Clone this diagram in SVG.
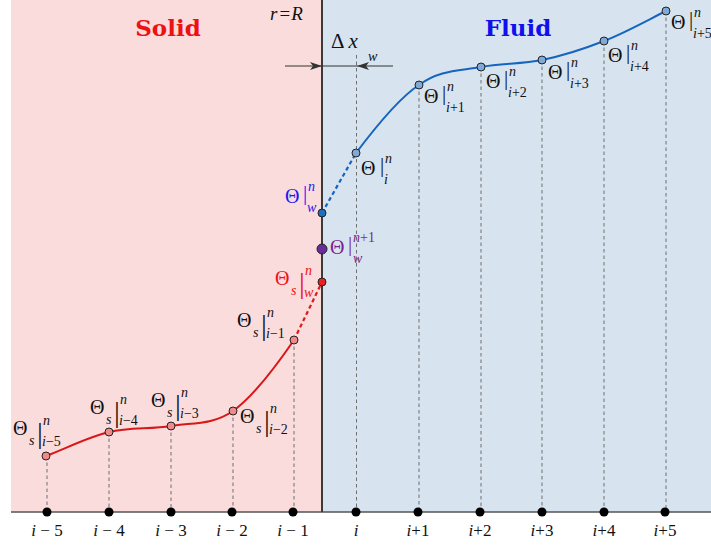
<svg xmlns="http://www.w3.org/2000/svg" width="711" height="547" viewBox="0 0 711 547">
<style>
.m{font-family:"Liberation Serif","Times New Roman",serif;fill:#111}
.th{font-size:20px}
.bar{font-size:21px}
.barS{font-size:29px}
.sm{font-size:14px}
.it{font-style:italic}
.ax{font-family:"Liberation Serif",serif;font-size:17px;fill:#111;text-anchor:middle}
.title{font-family:"DejaVu Serif",serif;font-weight:bold;font-size:23px;text-anchor:middle}
.vd{stroke:#6e6e6e;stroke-width:1;stroke-dasharray:3.5 3;fill:none}
.pr{fill:#f08a8a;stroke:#222;stroke-width:1}
.pb{fill:#7fa9d6;stroke:#222;stroke-width:1}
.dot{fill:#000}
</style>
<defs>
<marker id="ah" markerWidth="12" markerHeight="8" refX="12" refY="4" orient="auto" markerUnits="userSpaceOnUse">
<path d="M0,0 L12,4 L0,8 L3,4 Z" fill="#333"/>
</marker>
</defs>
<g id="background">
<rect x="11" y="0" width="311" height="512" fill="#fadcdd"/>
<rect x="322" y="0" width="389" height="512" fill="#d7e4ef"/>
</g>
<g id="titles">
<text class="title" x="168" y="36" fill="#ee1111">Solid</text>
<text class="title" x="518" y="36" fill="#1010ee">Fluid</text>
<text class="m it" x="270" y="20" font-size="19">r<tspan font-style="normal" dx="2">=</tspan><tspan dx="1">R</tspan></text>
<text class="m" x="331" y="48" font-size="21">Δ<tspan class="it" dx="4">x</tspan></text>
<text class="m it" x="368" y="61" font-size="14">w</text>
</g>
<g id="connectors">
<line class="vd" x1="47" y1="456" x2="47" y2="512"/>
<line class="vd" x1="109" y1="432" x2="109" y2="512"/>
<line class="vd" x1="171" y1="426" x2="171" y2="512"/>
<line class="vd" x1="233" y1="411" x2="233" y2="512"/>
<line class="vd" x1="294" y1="340" x2="294" y2="512"/>
<line class="vd" x1="356.5" y1="55" x2="356.5" y2="512" stroke="#8a8a8a"/>
<line class="vd" x1="419" y1="85" x2="419" y2="512"/>
<line class="vd" x1="481" y1="67" x2="481" y2="512"/>
<line class="vd" x1="542" y1="60" x2="542" y2="512"/>
<line class="vd" x1="604" y1="41" x2="604" y2="512"/>
<line class="vd" x1="666" y1="11" x2="666" y2="512"/>
<line x1="11" y1="512" x2="711" y2="512" stroke="#555" stroke-width="1.5"/>
<line x1="322" y1="0" x2="322" y2="512" stroke="#3a3a3a" stroke-width="2"/>
<line x1="285" y1="66" x2="322" y2="66" stroke="#333" stroke-width="1" marker-end="url(#ah)"/>
<line x1="393" y1="66" x2="357" y2="66" stroke="#333" stroke-width="1" marker-end="url(#ah)"/>
<line x1="322" y1="66" x2="357" y2="66" stroke="#333" stroke-width="1"/>
<path d="M46,456 C67,448 88.2,437 109,432 C129.8,427 150.3,429.5 171,426 C191.7,422.5 212.5,425.3 233,411 C253.5,396.7 279.2,361.5 294,340" fill="none" stroke="#d81818" stroke-width="2"/>
<path d="M294,340 L322,282" fill="none" stroke="#e01818" stroke-width="2.2" stroke-dasharray="4 3"/>
<path d="M322,213 L356,153" fill="none" stroke="#1565c0" stroke-width="2.2" stroke-dasharray="4 3"/>
<path d="M356,153 C372.2,131.5 398.3,98.3 419,85 C439.7,69.7 459.5,71 481,67 C500.5,63 521.3,64.3 542,60 C562.7,55.7 583.2,49.2 604,41 C624.8,32.8 646,21 666,11" fill="none" stroke="#1565c0" stroke-width="2"/>
</g>
<g id="node-im5">
<circle class="dot" cx="47" cy="512" r="4.5"/>
<text class="ax" x="47" y="536"><tspan class="it">i</tspan> − 5</text>
<circle class="pr" cx="46" cy="456" r="4"/>
<text class="m th" x="13" y="435">Θ</text>
<text class="m it sm" x="29" y="445">s</text>
<text class="m barS" x="37" y="443">|</text>
<text class="m it sm" x="43" y="425">n</text>
<text class="m sm" x="42" y="446"><tspan class="it">i</tspan>−5</text>
</g>
<g id="node-im4">
<circle class="dot" cx="109" cy="512" r="4.5"/>
<text class="ax" x="109" y="536"><tspan class="it">i</tspan> − 4</text>
<circle class="pr" cx="109" cy="432" r="4"/>
<text class="m th" x="90" y="414">Θ</text>
<text class="m it sm" x="106" y="424">s</text>
<text class="m barS" x="114" y="422">|</text>
<text class="m it sm" x="120" y="404">n</text>
<text class="m sm" x="119" y="425"><tspan class="it">i</tspan>−4</text>
</g>
<g id="node-im3">
<circle class="dot" cx="171" cy="512" r="4.5"/>
<text class="ax" x="171" y="536"><tspan class="it">i</tspan> − 3</text>
<circle class="pr" cx="171" cy="426" r="4"/>
<text class="m th" x="151" y="407">Θ</text>
<text class="m it sm" x="167" y="417">s</text>
<text class="m barS" x="175" y="415">|</text>
<text class="m it sm" x="181" y="397">n</text>
<text class="m sm" x="180" y="418"><tspan class="it">i</tspan>−3</text>
</g>
<g id="node-im2">
<circle class="dot" cx="232" cy="512" r="4.5"/>
<text class="ax" x="232" y="536"><tspan class="it">i</tspan> − 2</text>
<circle class="pr" cx="233" cy="411" r="4"/>
<text class="m th" x="240" y="423">Θ</text>
<text class="m it sm" x="256" y="433">s</text>
<text class="m barS" x="264" y="431">|</text>
<text class="m it sm" x="270" y="413">n</text>
<text class="m sm" x="269" y="434"><tspan class="it">i</tspan>−2</text>
</g>
<g id="node-im1">
<circle class="dot" cx="293" cy="512" r="4.5"/>
<text class="ax" x="293" y="536"><tspan class="it">i</tspan> − 1</text>
<circle class="pr" cx="294" cy="340" r="4"/>
<text class="m th" x="237" y="327">Θ</text>
<text class="m it sm" x="253" y="337">s</text>
<text class="m barS" x="261" y="335">|</text>
<text class="m it sm" x="267" y="317">n</text>
<text class="m sm" x="266" y="338"><tspan class="it">i</tspan>−1</text>
</g>
<g id="node-wall-solid">
<circle cx="322" cy="282" r="4" fill="#e82020" stroke="#222" stroke-width="1"/>
<text class="m th" x="275" y="285" style="fill:#ee1111">Θ</text>
<text class="m it sm" x="291" y="295" style="fill:#ee1111">s</text>
<text class="m barS" x="299" y="293" style="fill:#ee1111">|</text>
<text class="m it sm" x="305" y="275" style="fill:#ee1111">n</text>
<text class="m it sm" x="304" y="297" style="fill:#ee1111">w</text>
</g>
<g id="node-wall-new">
<circle cx="322" cy="249" r="5" fill="#6a2a9a" stroke="#222" stroke-width="1"/>
<text class="m th" x="330" y="254" style="fill:#7b1f8f">Θ</text>
<text class="m bar" x="348" y="251" style="fill:#7b1f8f">|</text>
<text class="m sm" x="353" y="242" style="fill:#7b1f8f"><tspan class="it">n</tspan>+1</text>
<text class="m it sm" x="353" y="263" style="fill:#7b1f8f">w</text>
</g>
<g id="node-wall-fluid">
<circle cx="322" cy="213" r="4" fill="#1f6fbf" stroke="#222" stroke-width="1"/>
<text class="m th" x="285" y="203" style="fill:#1a1aee">Θ</text>
<text class="m bar" x="303" y="200" style="fill:#1a1aee">|</text>
<text class="m it sm" x="308" y="191" style="fill:#1a1aee">n</text>
<text class="m it sm" x="307" y="212" style="fill:#1a1aee">w</text>
</g>
<g id="node-i">
<circle class="dot" cx="356" cy="512" r="4.5"/>
<text class="ax it" x="356" y="536">i</text>
<circle class="pb" cx="356" cy="153" r="4"/>
<text class="m th" x="361" y="175">Θ</text>
<text class="m bar" x="380" y="172">|</text>
<text class="m it sm" x="385" y="163">n</text>
<text class="m it sm" x="384" y="184">i</text>
</g>
<g id="node-ip1">
<circle class="dot" cx="418" cy="512" r="4.5"/>
<text class="ax" x="418" y="536"><tspan class="it">i</tspan>+1</text>
<circle class="pb" cx="419" cy="85" r="4"/>
<text class="m th" x="424" y="103">Θ</text>
<text class="m bar" x="442" y="100">|</text>
<text class="m it sm" x="447" y="91">n</text>
<text class="m sm" x="446" y="112"><tspan class="it">i</tspan>+1</text>
</g>
<g id="node-ip2">
<circle class="dot" cx="480" cy="512" r="4.5"/>
<text class="ax" x="480" y="536"><tspan class="it">i</tspan>+2</text>
<circle class="pb" cx="481" cy="67" r="4"/>
<text class="m th" x="486" y="88">Θ</text>
<text class="m bar" x="504" y="85">|</text>
<text class="m it sm" x="509" y="76">n</text>
<text class="m sm" x="508" y="97"><tspan class="it">i</tspan>+2</text>
</g>
<g id="node-ip3">
<circle class="dot" cx="542" cy="512" r="4.5"/>
<text class="ax" x="542" y="536"><tspan class="it">i</tspan>+3</text>
<circle class="pb" cx="542" cy="60" r="4"/>
<text class="m th" x="548" y="79">Θ</text>
<text class="m bar" x="566" y="76">|</text>
<text class="m it sm" x="571" y="67">n</text>
<text class="m sm" x="570" y="88"><tspan class="it">i</tspan>+3</text>
</g>
<g id="node-ip4">
<circle class="dot" cx="604" cy="512" r="4.5"/>
<text class="ax" x="604" y="536"><tspan class="it">i</tspan>+4</text>
<circle class="pb" cx="604" cy="41" r="4"/>
<text class="m th" x="608" y="62">Θ</text>
<text class="m bar" x="626" y="59">|</text>
<text class="m it sm" x="631" y="50">n</text>
<text class="m sm" x="630" y="71"><tspan class="it">i</tspan>+4</text>
</g>
<g id="node-ip5">
<circle class="dot" cx="665" cy="512" r="4.5"/>
<text class="ax" x="665" y="536"><tspan class="it">i</tspan>+5</text>
<circle class="pb" cx="666" cy="11" r="4"/>
<text class="m th" x="671" y="29">Θ</text>
<text class="m bar" x="689" y="26">|</text>
<text class="m it sm" x="694" y="17">n</text>
<text class="m sm" x="693" y="38"><tspan class="it">i</tspan>+5</text>
</g>
</svg>
